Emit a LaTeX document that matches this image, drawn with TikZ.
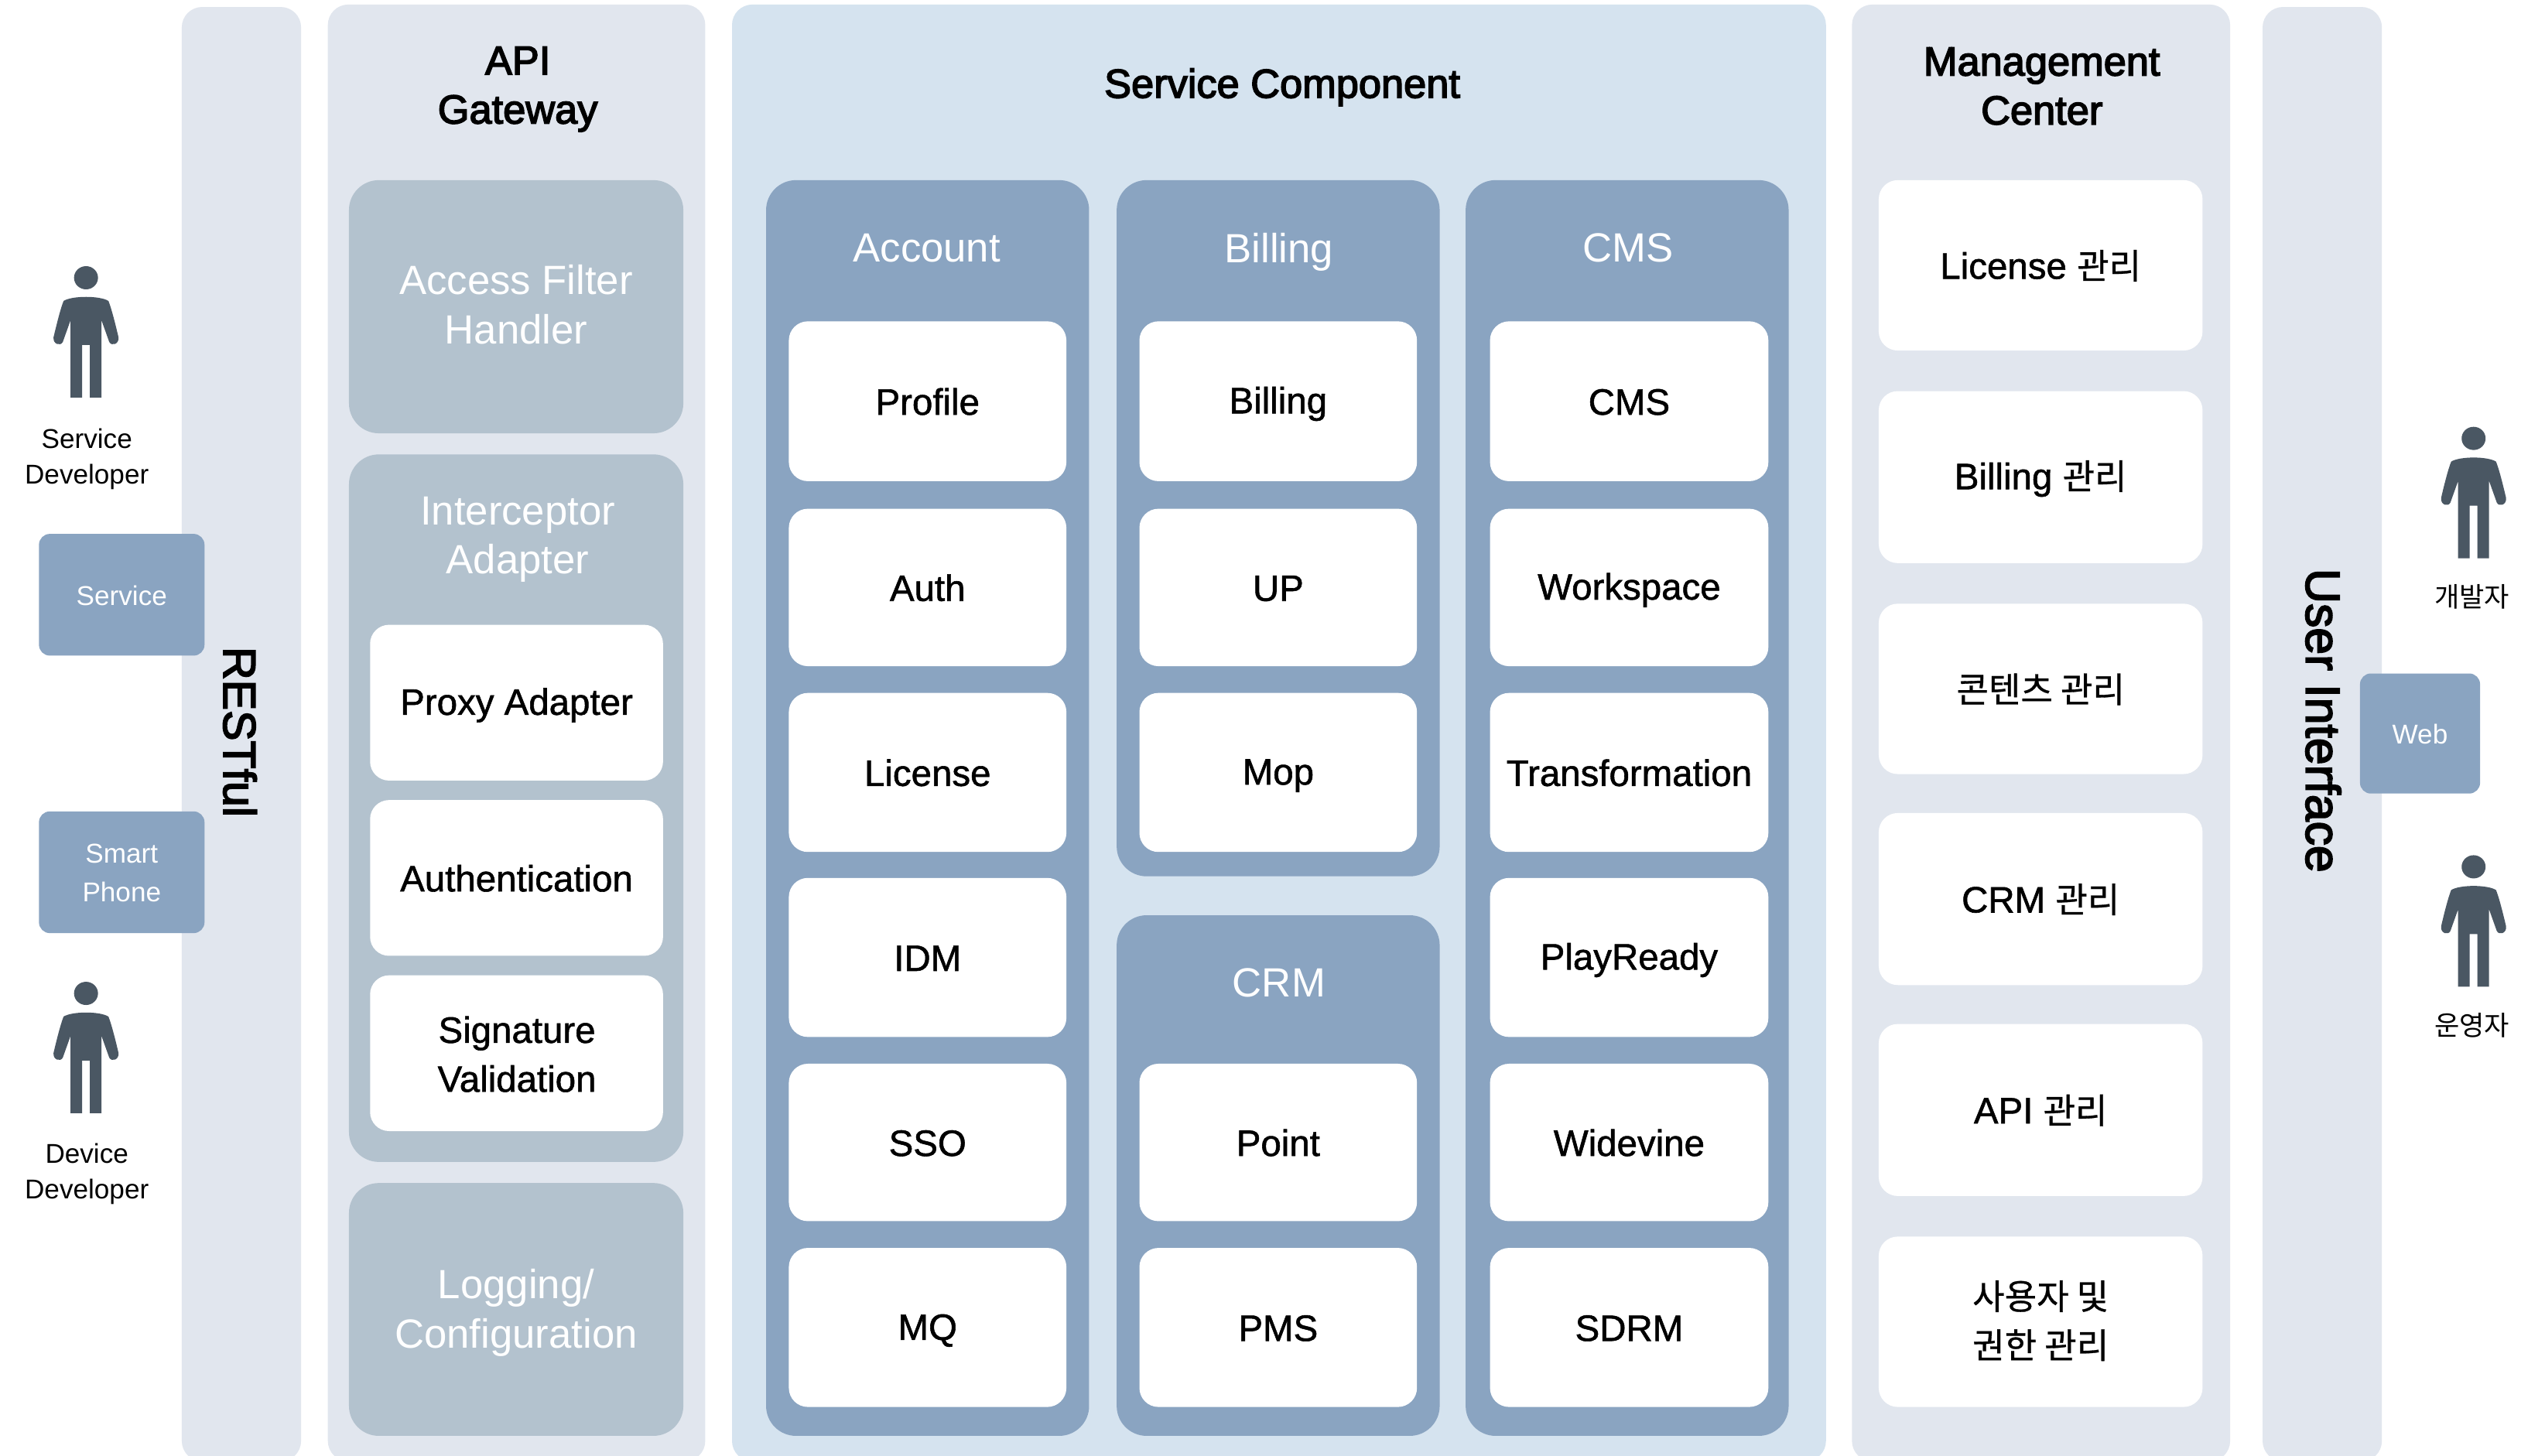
\documentclass[tikz,border=0pt]{standalone}
\usepackage{fontspec}
\setmainfont{Liberation Sans}
\newfontfamily\krfont{Noto Sans CJK KR}
\newfontfamily\medfont[FakeBold=3]{Liberation Sans}
\newfontfamily\bodyfont[FakeBold=1.2]{Liberation Sans}
\newfontfamily\medkr[FakeBold=0.7,Scale=0.95]{Noto Sans CJK KR}
\definecolor{bandcol}{HTML}{E1E6EE}
\definecolor{svccol}{HTML}{D5E3EF}
\definecolor{groupcol}{HTML}{8AA4C1}
\definecolor{gatecol}{HTML}{B3C2CE}
\definecolor{mancol}{HTML}{4A5763}
\newcommand\ts{\rule[-0.1\baselineskip]{0pt}{0.75\baselineskip}}
\tikzset{
  every node/.append style={execute at begin node=\ts,execute at end node=\ts},
  panel/.style={fill=bandcol,rounded corners=7.5},
  svcpanel/.style={fill=svccol,rounded corners=7.5},
  gatebox/.style={fill=gatecol,rounded corners=11,text=white,font=\fontsize{15}{18}\selectfont},
  groupbox/.style={fill=groupcol,rounded corners=11},
  whitebox/.style={fill=white,rounded corners=7,font=\bodyfont\fontsize{13.5}{18}\selectfont},
  smallbox/.style={fill=groupcol,rounded corners=4,text=white,font=\fontsize{10}{14}\selectfont},
  heading/.style={align=center,font=\medfont\fontsize{14.9}{18}\selectfont},
  grouphead/.style={text=white,align=center,font=\fontsize{15}{18}\selectfont},
  bodytext/.style={align=center,font=\bodyfont\fontsize{13.5}{18}\selectfont},
  smalltext/.style={text=white,align=center,font=\fontsize{10}{14.2}\selectfont},
  caption/.style={align=center,font=\fontsize{10}{13}\selectfont},
  sidetitle/.style={rotate=-90,font=\medfont\fontsize{16.8}{20}\selectfont},
  person/.pic={
    \fill[mancol,x=0.01cm,y=-0.01cm] (0,15) ellipse [x radius=15.5,y radius=15];
    \fill[mancol,x=0.01cm,y=-0.01cm] (-29,45) .. controls (-18,38) and (18,38) .. (29,45)
      .. controls (33,55) and (38,75) .. (42,92) .. controls (43,101) and (33,104) .. (30,98)
      -- (20,70) -- (20,170) -- (5,170) -- (5,102) -- (-5,102) -- (-5,170) -- (-20,170) -- (-20,70)
      -- (-30,98) .. controls (-33,104) and (-43,101) .. (-42,92)
      .. controls (-38,75) and (-33,55) .. (-29,45) -- cycle;
  }
}
% #1 style, #2 name, #3 x1, #4 y1, #5 x2, #6 y2, #7 text
\newcommand\bx[7]{\node[#1,draw=none,inner sep=0pt,outer sep=0pt,align=center,
  minimum width={(#5-#3)*0.20976mm},minimum height={(#6-#4)*0.20976mm}]
  (#2) at ({(#3+#5)/2},{(#4+#6)/2}) {#7};}
\begin{document}
\begin{tikzpicture}[x=0.20976mm,y=-0.20976mm]
\useasboundingbox (0,0) rectangle (1568,897.2);
\clip (0,0) rectangle (1568,897.2);
\fill[white] (0,0) rectangle (1568,897.2);
% bands
\bx{panel}{rest}{112}{4.3}{185.5}{900.5}{}
\bx{panel}{api}{202}{2.8}{434.5}{900.5}{}
\bx{svcpanel}{svc}{451}{2.8}{1125}{900.5}{}
\bx{panel}{mgmt}{1141}{2.8}{1374}{900.5}{}
\bx{panel}{ui}{1394}{4.3}{1467.5}{900.5}{}
\node[sidetitle] (resttitle) at (147,451) {RESTful};
\node[sidetitle,font=\medfont\fontsize{17.8}{20}\selectfont] (uititle) at (1430,444) {User Interface};
\node[heading] (apititle) at (319,55) {API\\Gateway};
\node[heading] (svctitle) at (790,53) {Service Component};
\node[heading] (mgmttitle) at (1258,54.5) {Management\\Center};
% gateway
\bx{gatebox}{access}{215}{111}{421}{267}{Access Filter\\Handler}
\bx{gatebox}{inter}{215}{280}{421}{716}{}
\node[grouphead] (intertitle) at (319,332.5) {Interceptor\\Adapter};
\bx{whitebox}{proxy}{228}{385}{408.5}{481}{Proxy Adapter}
\bx{whitebox}{authn}{228}{493}{408.5}{589}{Authentication}
\bx{whitebox}{sign}{228}{601}{408.5}{697}{}
\node[bodytext] (signt) at (318.5,651) {Signature\\Validation};
\bx{gatebox}{logbox}{215}{729}{421}{884.8}{}
\node[grouphead] (logt) at (318,809) {Logging/\\Configuration};
% groups
\bx{groupbox}{account}{472}{111}{671}{884.8}{}
\bx{groupbox}{billing}{688}{111}{887}{540}{}
\bx{groupbox}{crm}{688}{564}{887}{884.8}{}
\bx{groupbox}{cms}{903}{111}{1102}{884.8}{}
\node[grouphead] (accountt) at (571,153) {Account};
\node[grouphead] (billingt) at (788,154.5) {Billing};
\node[grouphead] (crmt) at (788,606) {CRM};
\node[grouphead] (cmst) at (1003,153) {CMS};
\bx{whitebox}{a1}{486}{198}{657}{296.5}{Profile}
\bx{whitebox}{a2}{486}{313.5}{657}{410.5}{Auth}
\bx{whitebox}{a3}{486}{427}{657}{525}{License}
\bx{whitebox}{a4}{486}{541}{657}{639}{IDM}
\bx{whitebox}{a5}{486}{655.5}{657}{752.5}{SSO}
\bx{whitebox}{a6}{486}{769}{657}{867}{MQ}
\bx{whitebox}{b1}{702}{198}{873}{296.5}{Billing}
\bx{whitebox}{b2}{702}{313.5}{873}{410.5}{UP}
\bx{whitebox}{b3}{702}{427}{873}{525}{Mop}
\bx{whitebox}{c1}{702}{655.5}{873}{752.5}{Point}
\bx{whitebox}{c2}{702}{769}{873}{867}{PMS}
\bx{whitebox}{d1}{918}{198}{1089.5}{296.5}{CMS}
\bx{whitebox}{d2}{918}{313.5}{1089.5}{410.5}{Workspace}
\bx{whitebox}{d3}{918}{427}{1089.5}{525}{Transformation}
\bx{whitebox}{d4}{918}{541}{1089.5}{639}{PlayReady}
\bx{whitebox}{d5}{918}{655.5}{1089.5}{752.5}{Widevine}
\bx{whitebox}{d6}{918}{769}{1089.5}{867}{SDRM}
% management
\bx{whitebox}{m1}{1157.5}{111}{1357}{216}{License {\medkr 관리}}
\bx{whitebox}{m2}{1157.5}{241}{1357}{347}{Billing {\medkr 관리}}
\bx{whitebox}{m3}{1157.5}{372}{1357}{477}{{\medkr 콘텐츠 관리}}
\bx{whitebox}{m4}{1157.5}{501}{1357}{607}{CRM {\medkr 관리}}
\bx{whitebox}{m5}{1157.5}{631}{1357}{737}{API {\medkr 관리}}
\bx{whitebox}{m6}{1157.5}{762}{1357}{867}{{\medkr 사용자 및}\\{\medkr 권한 관리}}
% small boxes
\bx{smallbox}{service}{24}{329}{126}{404}{Service}
\bx{smallbox}{phone}{24}{500}{126}{575}{}
\node[smalltext] (phonet) at (75,539) {Smart\\Phone};
\bx{smallbox}{web}{1454}{415}{1528}{489}{Web}
% persons
\pic (p1) at (53,164) {person};
\pic (p2) at (53,605) {person};
\pic (p3) at (1524,263) {person};
\pic (p4) at (1524,527) {person};
\node[caption] (c1l) at (53.5,283) {Service\\Developer};
\node[caption] (c2l) at (53.5,723.5) {Device\\Developer};
\node[caption] (c3l) at (1523,368) {\krfont 개발자};
\node[caption] (c4l) at (1523,632) {\krfont 운영자};
\end{tikzpicture}
\end{document}
